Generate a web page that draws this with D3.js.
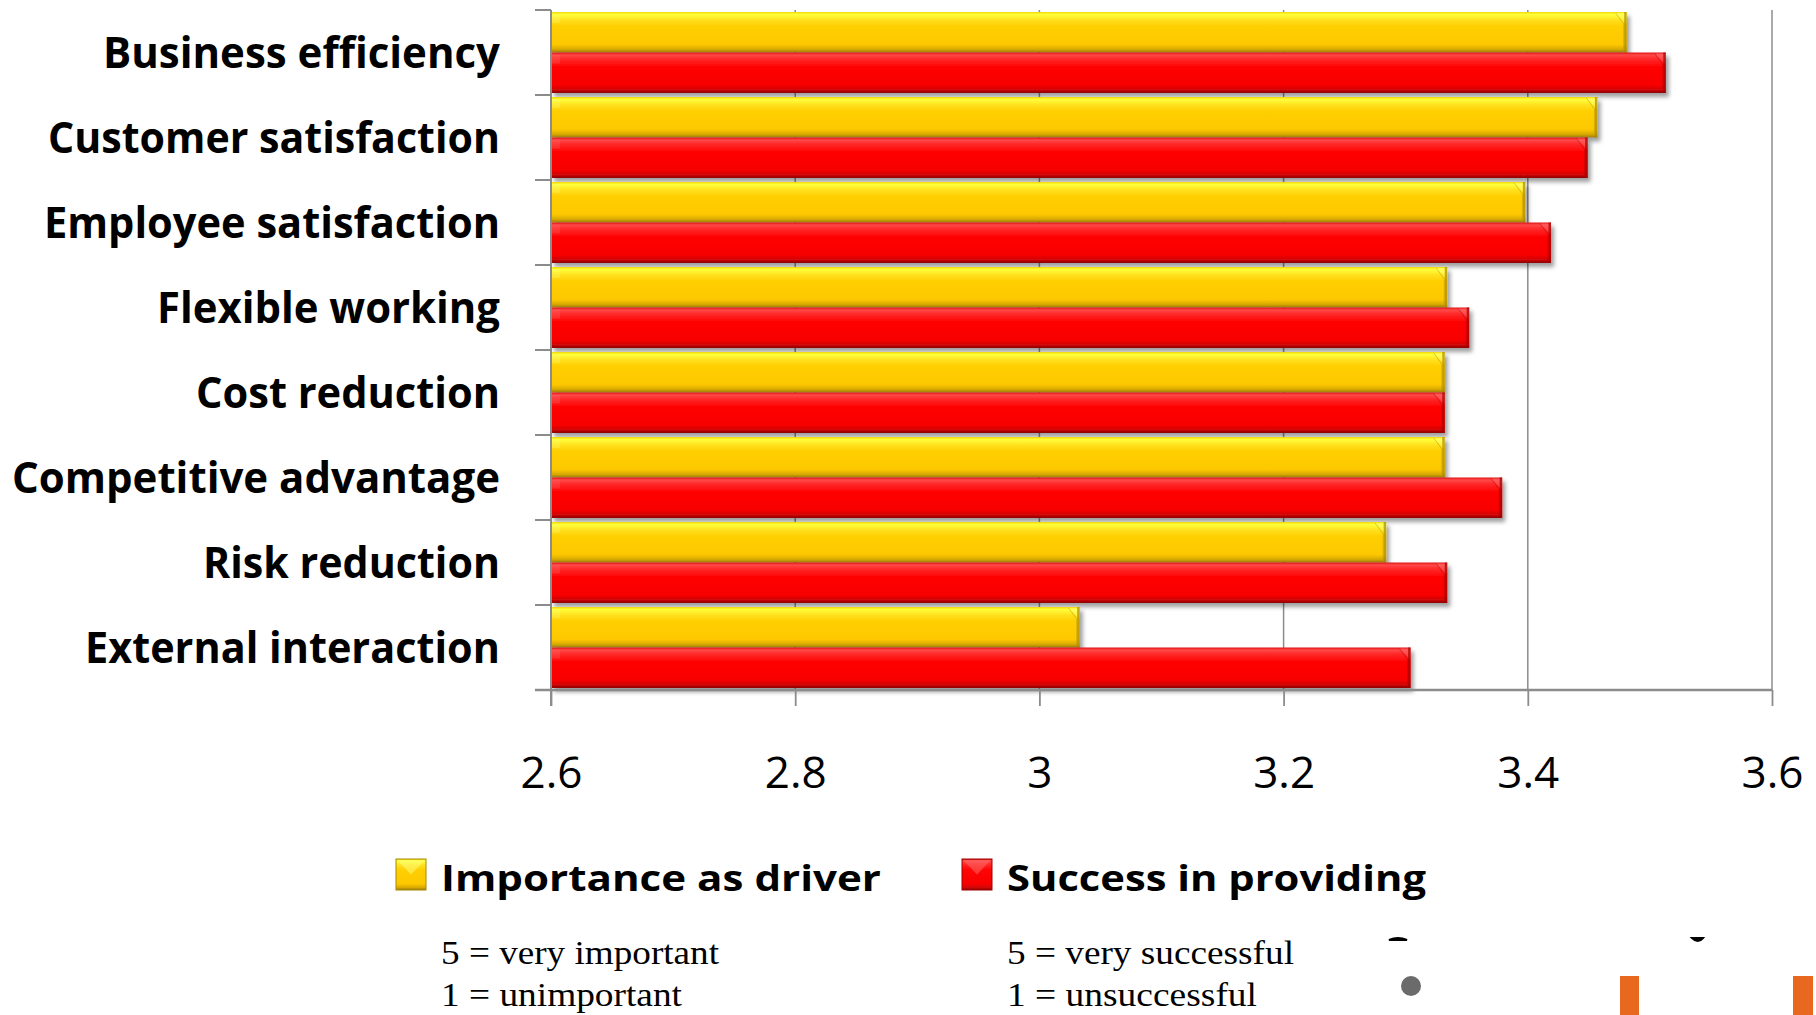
<!DOCTYPE html>
<html>
<head>
<meta charset="utf-8">
<script src="https://cdn.jsdelivr.net/npm/d3@7/dist/d3.min.js"></script>
<style>
  html, body { margin: 0; padding: 0; background: #ffffff; }
  svg { display: block; }
</style>
</head>
<body>
<script>
// ---------------- data ----------------
const categories = ["Business efficiency", "Customer satisfaction", "Employee satisfaction",
  "Flexible working", "Cost reduction", "Competitive advantage", "Risk reduction", "External interaction"];
const importance = [3.481, 3.457, 3.398, 3.334, 3.332, 3.332, 3.284, 3.033];
const success    = [3.513, 3.449, 3.419, 3.352, 3.332, 3.379, 3.334, 3.304];
const xTicks = [2.6, 2.8, 3.0, 3.2, 3.4, 3.6];
const seriesNames = ["Importance as driver", "Success in providing"];
const scaleNotes = [["5 = very important", "1 = unimportant"], ["5 = very successful", "1 = unsuccessful"]];

// ---------------- layout ----------------
const W = 1816, H = 1015;
const svg = d3.select("body").append("svg").attr("width", W).attr("height", H);
const defs = svg.append("defs");

const x = d3.scaleLinear().domain([2.6, 3.6]).range([551, 1772]);
const y = d3.scaleBand().domain(categories).range([10, 690]).paddingInner(0).paddingOuter(0);
const ySub = d3.scaleBand().domain([0, 1]).range([0, y.bandwidth()]).paddingOuter(0.05).paddingInner(0);

// gradients
function grad(id, stops) {
  const g = defs.append("linearGradient").attr("id", id).attr("x1", 0).attr("y1", 0).attr("x2", 0).attr("y2", 1);
  stops.forEach(s => g.append("stop").attr("offset", s[0]).attr("stop-color", s[1]));
}
grad("gY", [[0, "#f2d800"], [0.06, "#ffff3a"], [0.2, "#ffe020"], [0.35, "#ffcf00"], [0.8, "#fdc800"], [0.92, "#d8aa00"], [1, "#9a7a10"]]);
grad("gR", [[0, "#e01010"], [0.06, "#ff4848"], [0.2, "#ff2020"], [0.35, "#ff0505"], [0.8, "#f80000"], [0.92, "#d00808"], [1, "#8c0000"]]);
const fills = ["url(#gY)", "url(#gR)"];
const edge = ["#a88a00", "#a00000"];
const hi = ["#ffff80", "#ff7070"];

const sh = defs.append("filter").attr("id", "sh").attr("x", "-5%").attr("y", "-30%").attr("width", "115%").attr("height", "170%");
sh.append("feDropShadow").attr("dx", 3).attr("dy", 4).attr("stdDeviation", 2.2)
  .attr("flood-color", "#000").attr("flood-opacity", 0.38);

// gridlines
const grid = svg.append("g");
grid.selectAll("line").data(xTicks.slice(1)).join("line")
  .attr("x1", d => x(d)).attr("x2", d => x(d))
  .attr("y1", 10).attr("y2", 690)
  .attr("stroke", "#8c8c8c").attr("stroke-width", 1.5);

// bars
const series = [importance, success];
const bars = svg.append("g");
categories.forEach((c, i) => {
  series.forEach((vals, s) => {
    const v = vals[i];
    const x0 = x(2.6), x1 = x(v);
    const top = y(c) + ySub(s), h = ySub.bandwidth();
    const g = bars.append("g");
    g.append("rect").attr("x", x0).attr("y", top).attr("width", x1 - x0).attr("height", h)
      .attr("fill", fills[s]).attr("filter", "url(#sh)");
    // right bevel
    g.append("path")
      .attr("d", `M${x1 - 11},${top + 1} L${x1},${top + 1} L${x1},${top + 12} Z`)
      .attr("fill", hi[s]).attr("opacity", 0.45);
    g.append("path")
      .attr("d", `M${x1 - 11},${top + 1} L${x1 - 3},${top + 12} L${x1 - 3},${top + h - 3}`)
      .attr("fill", "none").attr("stroke", edge[s]).attr("stroke-width", 0.8).attr("opacity", 0.5);
    g.append("rect").attr("x", x1 - 2.5).attr("y", top).attr("width", 2.5).attr("height", h)
      .attr("fill", edge[s]).attr("opacity", 0.7);
    // left bevel
    g.append("path")
      .attr("d", `M${x0},${top + 2} L${x0 + 9},${top + 2} L${x0 + 9},${top + 11} L${x0},${top + 11} Z`)
      .attr("fill", hi[s]).attr("opacity", 0.25);
  });
});

// axes
const axisColor = "#8c8c8c";
const yAxis = svg.append("g");
yAxis.append("line").attr("x1", 551).attr("x2", 551).attr("y1", 10).attr("y2", 706)
  .attr("stroke", axisColor).attr("stroke-width", 2);
const bounds = categories.map(c => y(c)).concat([y.range()[1]]);
yAxis.selectAll("line.t").data(bounds).join("line").attr("class", "t")
  .attr("x1", 535).attr("x2", 551).attr("y1", d => d).attr("y2", d => d)
  .attr("stroke", axisColor).attr("stroke-width", 2);

const xAxisG = svg.append("g").attr("transform", "translate(0,690)");
xAxisG.call(d3.axisBottom(x).tickValues(xTicks).tickSize(16).tickPadding(0).tickFormat(d3.format("")));
xAxisG.select(".domain").attr("stroke", axisColor).attr("stroke-width", 2.5).attr("d", "M535,0H1772");
xAxisG.selectAll(".tick line").attr("stroke", axisColor).attr("stroke-width", 1.8);
xAxisG.selectAll(".tick text").attr("y", 98).attr("dy", 0)
  .attr("font-family", "'Open Sans', sans-serif").attr("font-size", 44).attr("fill", "#000");

// category labels
const labelWidths = [397, 452, 456, 343, 304, 488, 297, 415];
svg.append("g").selectAll("text").data(categories).join("text")
  .attr("x", 500).attr("y", d => y(d) + y.bandwidth() / 2 + 15.5)
  .attr("text-anchor", "end")
  .attr("font-family", "'Open Sans', sans-serif").attr("font-weight", 700).attr("font-size", 43)
  .attr("textLength", (d, i) => labelWidths[i]).attr("lengthAdjust", "spacingAndGlyphs")
  .attr("fill", "#000").text(d => d);

// legend
const legendX = [396, 962];
const legendTextW = [440, 419];
const noteW = [[278, 241], [287, 250]];
const lg = svg.append("g");
seriesNames.forEach((name, s) => {
  lg.append("rect").attr("x", legendX[s]).attr("y", 859).attr("width", 30).attr("height", 31)
    .attr("fill", fills[s]).attr("stroke", edge[s]).attr("stroke-width", 1);
  lg.append("path")
    .attr("d", `M${legendX[s] + 1},${860} L${legendX[s] + 15},${874.5} L${legendX[s] + 29},${860} Z`)
    .attr("fill", hi[s]).attr("opacity", 0.5);
  lg.append("text").attr("x", legendX[s] + 45).attr("y", 891)
    .attr("font-family", "'Open Sans', sans-serif").attr("font-weight", 700).attr("font-size", 35)
    .attr("textLength", legendTextW[s]).attr("lengthAdjust", "spacingAndGlyphs")
    .attr("fill", "#000").text(name);
  scaleNotes[s].forEach((t, k) => {
    lg.append("text").attr("x", legendX[s] + 45).attr("y", 964 + k * 42)
      .attr("font-family", "'Liberation Serif', 'Times New Roman', serif").attr("font-size", 34)
      .attr("textLength", noteW[s][k]).attr("lengthAdjust", "spacingAndGlyphs")
      .attr("fill", "#000").text(t);
  });
});

// cropped fragments visible at bottom right of the source picture
const frag = svg.append("g");
frag.append("path").attr("d", "M1389,940 Q1398,936 1407,940 Z").attr("fill", "#000").attr("stroke", "#000").attr("stroke-width", 2);
frag.append("path").attr("d", "M1692,938 Q1698,944 1703,938 Z").attr("fill", "#000").attr("stroke", "#000").attr("stroke-width", 2);
frag.append("circle").attr("cx", 1411).attr("cy", 986).attr("r", 10).attr("fill", "#6b6b6b");
frag.append("rect").attr("x", 1620).attr("y", 976).attr("width", 19).attr("height", 39).attr("fill", "#e8681f");
frag.append("rect").attr("x", 1793).attr("y", 976).attr("width", 20).attr("height", 39).attr("fill", "#e8681f");
</script>
</body>
</html>
